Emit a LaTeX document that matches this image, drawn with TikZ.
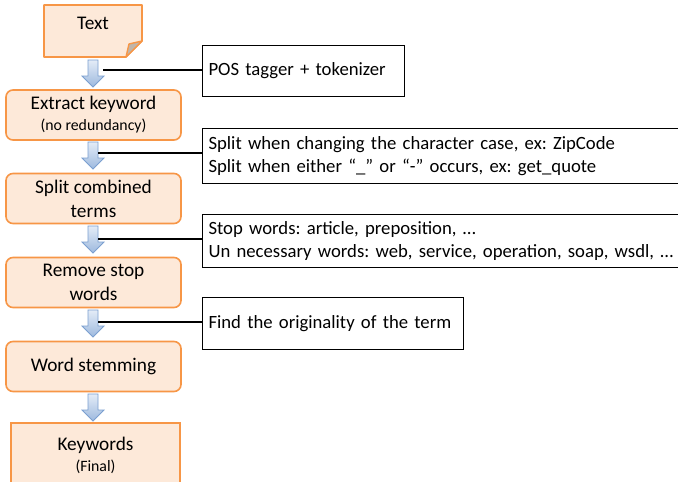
\documentclass[tikz,border=0pt]{standalone}
\usepackage{fontspec}
\setmainfont{Carlito}
\usetikzlibrary{calc}
\definecolor{stepfill}{HTML}{FDE9D9}
\definecolor{stepline}{HTML}{F79646}
\definecolor{arrtop}{HTML}{E4ECF7}
\definecolor{arrbot}{HTML}{9DB9DE}
\definecolor{arrline}{HTML}{7B9FD0}
\definecolor{foldfill}{HTML}{C0B5AA}
\newcommand{\stepfont}{\fontsize{19.3}{24}\selectfont}
\newcommand{\notefont}{\fontsize{18.7}{22.5}\selectfont\frenchspacing}
\newcommand{\subfont}{\fontsize{15.8}{17}\selectfont}
\tikzset{
  stepbox/.style={draw=stepline, fill=stepfill, line width=1.6pt, rounded corners=7pt,
    minimum width=175pt, minimum height=50pt, align=center, font=\stepfont,
    inner sep=0pt},
  notebox/.style={draw=black, line width=1.1pt, anchor=north west, align=left,
    font=\notefont, inner xsep=6pt, inner ysep=0pt},
  link/.style={draw=black, line width=1.6pt}
}
% downward block arrow between two steps; #1 = top y
\newcommand{\flowarrow}[2]{%
  \shade[top color=arrtop, bottom color=arrbot, draw=arrline, line width=0.8pt, line join=miter]
    (88,#1) -- (98,#1) -- (98,#1+16) -- (104,#1+16) -- (93,#1+27) -- (82,#1+16) -- (88,#1+16) -- cycle;
  \coordinate (#2) at (98,#1+10);}
\begin{document}
\begin{tikzpicture}[x=1pt, y=-1pt]
\useasboundingbox (0,0) rectangle (678,482);
\fill[white] (0,0) rectangle (678,482);

% input document with folded corner
\filldraw[draw=stepline, fill=stepfill, line width=1.6pt, line join=round]
  (44,5) -- (142,5) -- (142,41) -- (126,57) -- (44,57) -- cycle;
\filldraw[draw=stepline, fill=foldfill, line width=1.4pt, line join=round]
  (142,41) -- (126,57) -- (129,44) -- cycle;
\node[font=\stepfont] (text) at (93,23) {Text};

% processing steps
\node[stepbox] (extract) at (93.5,115) {Extract keyword\\[-3pt]{\subfont (no redundancy)}};
\node[stepbox] (split) at (93.5,198.5) {Split combined\\terms};
\node[stepbox] (remove) at (93.5,282.5) {Remove stop\\words};
\node[stepbox] (stem) at (93.5,366.5) {Word stemming};
\draw[draw=stepline, fill=stepfill, line width=1.6pt] (11,423) rectangle (180,490);
\node[align=center, font=\stepfont] (kw) at (95.5,455) {Keywords\\[-3pt]{\subfont (Final)}};

% arrows between steps
\flowarrow{60}{a1}
\flowarrow{142}{a2}
\flowarrow{226}{a3}
\flowarrow{310}{a4}
\flowarrow{394}{a5}

% notes
\node[notebox, text width=190pt, minimum height=51pt] (pos) at (202,45) {POS tagger + tokenizer};
\node[notebox, text width=468pt, minimum height=55pt] (splitnote) at (202,128)
  {Split when changing the character case, ex: ZipCode\\Split when either “\_” or “-” occurs, ex: get\_quote};
\node[notebox, text width=468pt, minimum height=53pt] (stopnote) at (202,214)
  {Stop words: article, preposition, …\\Un necessary words: web, service, operation, soap, wsdl, …};
\node[notebox, text width=249pt, minimum height=52pt] (findnote) at (202,297) {Find the originality of the term};

% connectors
\coordinate (c1) at (103,70);
\draw[link] (c1) -- (c1 -| pos.west);
\coordinate (c2) at (98,153);
\draw[link] (c2) -- (c2 -| splitnote.west);
\coordinate (c3) at (98,239);
\draw[link] (c3) -- (c3 -| stopnote.west);
\coordinate (c4) at (98,322);
\draw[link] (c4) -- (c4 -| findnote.west);
\end{tikzpicture}
\end{document}
